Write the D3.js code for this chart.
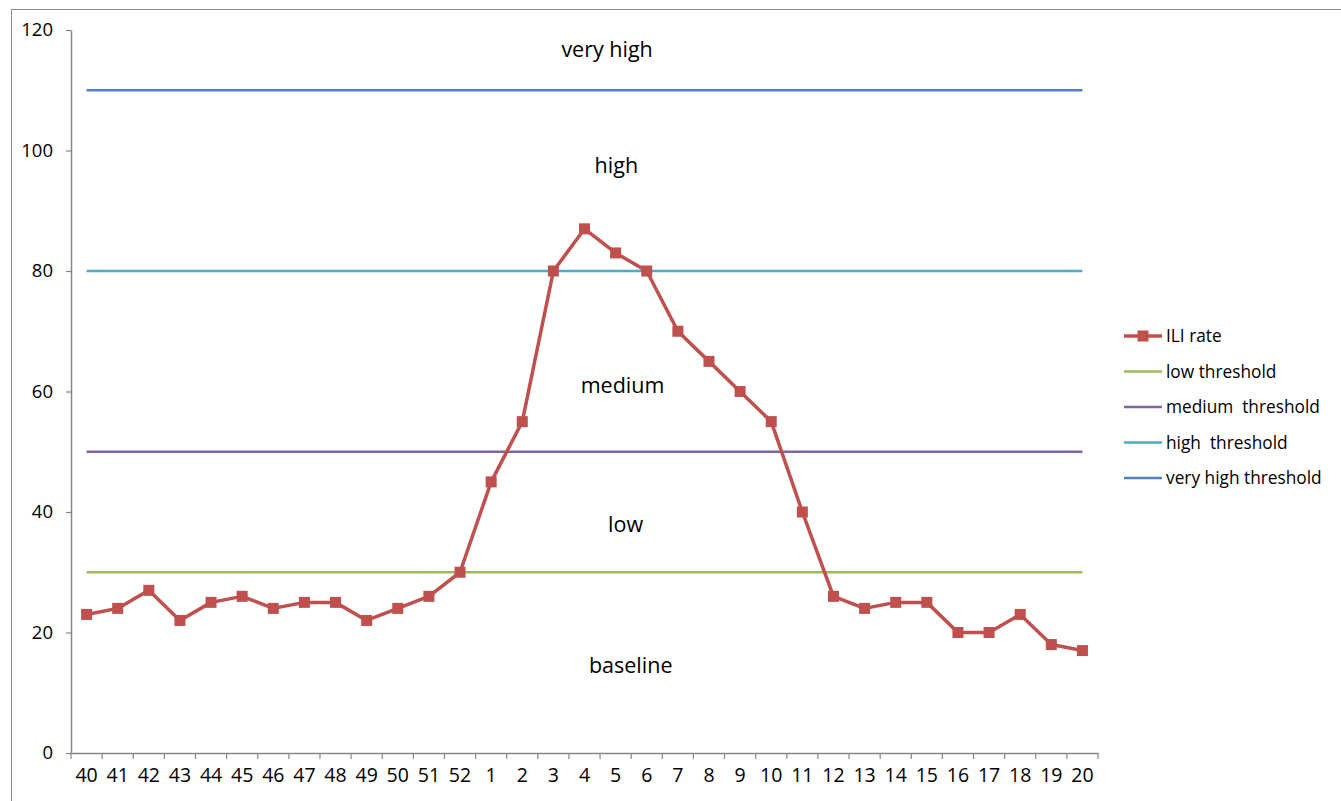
<!DOCTYPE html>
<html>
<head>
<meta charset="utf-8">
<script src="https://cdn.jsdelivr.net/npm/d3@7"></script>
<style>
  body { margin: 0; background: #fff; }
  text { font-family: "Open Sans", sans-serif; fill: #000; }
</style>
</head>
<body>
<script>

    // weeks of the season
    var weeks = ["40","41","42","43","44","45","46","47","48","49","50","51","52",
                 "1","2","3","4","5","6","7","8","9","10","11","12","13","14","15","16","17","18","19","20"];

    var iliRate = [23,24,27,22,25,26,24,25,25,22,24,26,30,
                   45,55,80,87,83,80,70,65,60,55,40,26,24,25,25,20,20,23,18,17];

    var thresholdNames  = ["low threshold", "medium  threshold", "high  threshold", "very high threshold"];
    var thresholdValues = [30, 50, 80, 110];
    var thresholdColors = ["#9bbb59", "#8064a2", "#4bacc6", "#4f81bd"];

    var zoneNames  = ["very high", "high", "medium", "low", "baseline"];
    var zoneValues = [116.7, 97.5, 61, 38, 14.5];
    var zoneX      = [0.522, 0.531, 0.537, 0.540, 0.545];   // fraction of plot width

    var yTicks = [0, 20, 40, 60, 80, 100, 120];

    var W = 1341, H = 801;
    var mLeft = 71, mRight = 1098, mTop = 30, mBottom = 753;

    var svg = d3.select("body").append("svg")
        .attr("width", W)
        .attr("height", H);

    // outer chart border
    svg.append("rect")
        .attr("x", 11.5).attr("y", 9.5)
        .attr("width", W + 10).attr("height", H + 10)
        .attr("fill", "none")
        .attr("stroke", "#8c8c8c")
        .attr("stroke-width", 1);

    var x = d3.scaleBand().domain(weeks).range([mLeft, mRight]).padding(0);
    var y = d3.scaleLinear().domain([0, 120]).range([mBottom, mTop]);
    var cx = function(w) { return x(w) + x.bandwidth() / 2; };

    // y axis
    var yAxis = svg.append("g")
        .attr("transform", "translate(" + mLeft + ",0)")
        .call(d3.axisLeft(y).tickValues(yTicks).tickSize(5).tickSizeOuter(0).tickPadding(13));
    yAxis.select(".domain").attr("stroke", "#868686").attr("stroke-width", 1.5);
    yAxis.selectAll(".tick line").attr("stroke", "#868686").attr("stroke-width", 1.2);
    yAxis.selectAll("text").style("font-size", "18.5px").attr("fill", "#000");

    // x axis
    var xAxis = svg.append("g")
        .attr("transform", "translate(0," + mBottom + ")")
        .call(d3.axisBottom(x).tickSize(0).tickPadding(15));
    xAxis.select(".domain").attr("stroke", "#868686").attr("stroke-width", 1.5);
    xAxis.selectAll("text").style("font-size", "19.5px").attr("fill", "#000");

    var bounds = weeks.map(function(w) { return x(w); }).concat([mRight]);
    svg.append("g").selectAll("line")
        .data(bounds)
        .enter().append("line")
        .attr("x1", function(d) { return d; })
        .attr("x2", function(d) { return d; })
        .attr("y1", mBottom)
        .attr("y2", mBottom + 6)
        .attr("stroke", "#868686")
        .attr("stroke-width", 1.2);

    // threshold lines
    svg.append("g").selectAll("line")
        .data(thresholdValues)
        .enter().append("line")
        .attr("x1", cx(weeks[0]))
        .attr("x2", cx(weeks[weeks.length - 1]))
        .attr("y1", function(d) { return y(d); })
        .attr("y2", function(d) { return y(d); })
        .attr("stroke", function(d, i) { return thresholdColors[i]; })
        .attr("stroke-width", 2.5);

    // zone labels
    svg.append("g").selectAll("text")
        .data(zoneNames)
        .enter().append("text")
        .attr("x", function(d, i) { return mLeft + zoneX[i] * (mRight - mLeft); })
        .attr("y", function(d, i) { return y(zoneValues[i]); })
        .attr("dy", "0.35em")
        .attr("text-anchor", "middle")
        .style("font-size", "21.5px")
        .text(function(d) { return d; });

    // ILI rate line
    var line = d3.line()
        .x(function(d, i) { return cx(weeks[i]); })
        .y(function(d) { return y(d); });

    svg.append("path")
        .datum(iliRate)
        .attr("d", line)
        .attr("fill", "none")
        .attr("stroke", "#c0504d")
        .attr("stroke-width", 3.5)
        .attr("stroke-linejoin", "round");

    var ms = 11;
    svg.append("g").selectAll("rect")
        .data(iliRate)
        .enter().append("rect")
        .attr("x", function(d, i) { return cx(weeks[i]) - ms / 2; })
        .attr("y", function(d) { return y(d) - ms / 2; })
        .attr("width", ms)
        .attr("height", ms)
        .attr("fill", "#c0504d");

    // legend
    var legendItems = ["ILI rate"].concat(thresholdNames);
    var legendColors = ["#c0504d"].concat(thresholdColors);
    var lg = svg.append("g").attr("transform", "translate(1124,336)");
    var item = lg.selectAll("g")
        .data(legendItems)
        .enter().append("g")
        .attr("transform", function(d, i) { return "translate(0," + (i * 35.5) + ")"; });

    item.append("line")
        .attr("x1", 0).attr("x2", 38)
        .attr("y1", 0).attr("y2", 0)
        .attr("stroke", function(d, i) { return legendColors[i]; })
        .attr("stroke-width", function(d, i) { return i === 0 ? 3.5 : 2.5; });

    item.filter(function(d, i) { return i === 0; })
        .append("rect")
        .attr("x", 19 - ms / 2).attr("y", -ms / 2)
        .attr("width", ms).attr("height", ms)
        .attr("fill", "#c0504d");

    item.append("text")
        .attr("x", 42)
        .attr("dy", "0.35em")
        .style("font-size", "17.3px")
        .style("white-space", "pre")
        .text(function(d) { return d; });

</script>
</body>
</html>
